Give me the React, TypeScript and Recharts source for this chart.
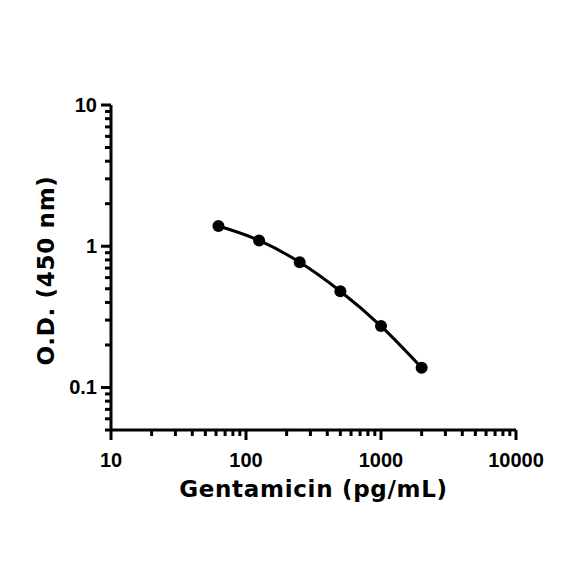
import { LineChart, Line, XAxis, YAxis, Label } from "recharts";

const concentrations = [62.5, 125, 250, 500, 1000, 2000];
const odValues = [1.39, 1.1, 0.77, 0.48, 0.272, 0.138];

const xMajorTicks = [10, 100, 1000, 10000];
const xMinorTicks = [20, 30, 40, 50, 60, 70, 80, 90, 200, 300, 400, 500, 600, 700, 800, 900, 2000, 3000, 4000, 5000, 6000, 7000, 8000, 9000];
const yMajorTicks = [0.1, 1, 10];
const yMinorTicks = [0.05, 0.06, 0.07, 0.08, 0.09, 0.2, 0.3, 0.4, 0.5, 0.6, 0.7, 0.8, 0.9, 2, 3, 4, 5, 6, 7, 8, 9];

const xTitle = "Gentamicin (pg/mL)";
const yTitle = "O.D. (450 nm)";

const data = concentrations.map((c, i) => ({ conc: c, od: odValues[i] }));

const tickFont = "'Liberation Sans', Arial, sans-serif";
const titleFont = "'DejaVu Sans', sans-serif";

// draws the tick mark itself, label only on the decades
const XTick = (props: any) => {
  const { x, y, payload } = props;
  const major = xMajorTicks.includes(payload.value);
  return (
    <g>
      <line x1={x} x2={x} y1={y} y2={y + (major ? 10 : 6)} stroke="#000" strokeWidth={3} />
      {major && (
        <text x={x} y={y + 37} textAnchor="middle" fontFamily={tickFont} fontWeight="bold" fontSize={20} fill="#000">
          {payload.value}
        </text>
      )}
    </g>
  );
};

const YTick = (props: any) => {
  const { x, y, payload } = props;
  const major = yMajorTicks.includes(payload.value);
  return (
    <g>
      <line x1={x - (major ? 10 : 6)} x2={x} y1={y} y2={y} stroke="#000" strokeWidth={3} />
      {major && (
        <text x={x - 14} y={y + 7} textAnchor="end" fontFamily={tickFont} fontWeight="bold" fontSize={20} fill="#000">
          {payload.value}
        </text>
      )}
    </g>
  );
};

export default function App() {
  return (
    <div style={{ width: 576, height: 576, background: "#fff" }}>
      <LineChart width={576} height={576} data={data} margin={{ top: 97, right: 68, bottom: 74, left: 23 }}>
        <XAxis
          dataKey="conc"
          type="number"
          scale="log"
          domain={[10, 10000]}
          ticks={[...xMajorTicks, ...xMinorTicks].sort((a, b) => a - b)}
          interval={0}
          tick={<XTick />}
          tickLine={false}
          tickSize={0}
          tickMargin={0}
          height={80}
          axisLine={{ stroke: "#000", strokeWidth: 3 }}
          allowDataOverflow
        >
          <Label
            content={(p: any) => {
              const vb = p.viewBox;
              return (
                <text x={vb.x + vb.width / 2} y={vb.y + 67} textAnchor="middle" fontFamily={titleFont} fontWeight="bold" fontSize={23} letterSpacing={0.7} fill="#000">
                  {xTitle}
                </text>
              );
            }}
          />
        </XAxis>
        <YAxis
          dataKey="od"
          type="number"
          scale="log"
          domain={[0.05, 10]}
          ticks={[...yMajorTicks, ...yMinorTicks].sort((a, b) => a - b)}
          interval={0}
          tick={<YTick />}
          tickLine={false}
          tickSize={0}
          tickMargin={0}
          width={80}
          axisLine={{ stroke: "#000", strokeWidth: 3 }}
          allowDataOverflow
        >
          <Label
            content={(p: any) => {
              const vb = p.viewBox;
              const cx = vb.x + 15;
              const cy = vb.y + vb.height / 2 + 3;
              return (
                <text x={cx} y={cy} transform={`rotate(-90 ${cx} ${cy})`} textAnchor="middle" dominantBaseline="central" fontFamily={titleFont} fontWeight="bold" fontSize={23} letterSpacing={0.7} fill="#000">
                  {yTitle}
                </text>
              );
            }}
          />
        </YAxis>
        <Line
          dataKey="od"
          type="monotone"
          stroke="#000"
          strokeWidth={3}
          dot={{ r: 6, fill: "#000", stroke: "#000", strokeWidth: 0 }}
          isAnimationActive={false}
        />
      </LineChart>
    </div>
  );
}
